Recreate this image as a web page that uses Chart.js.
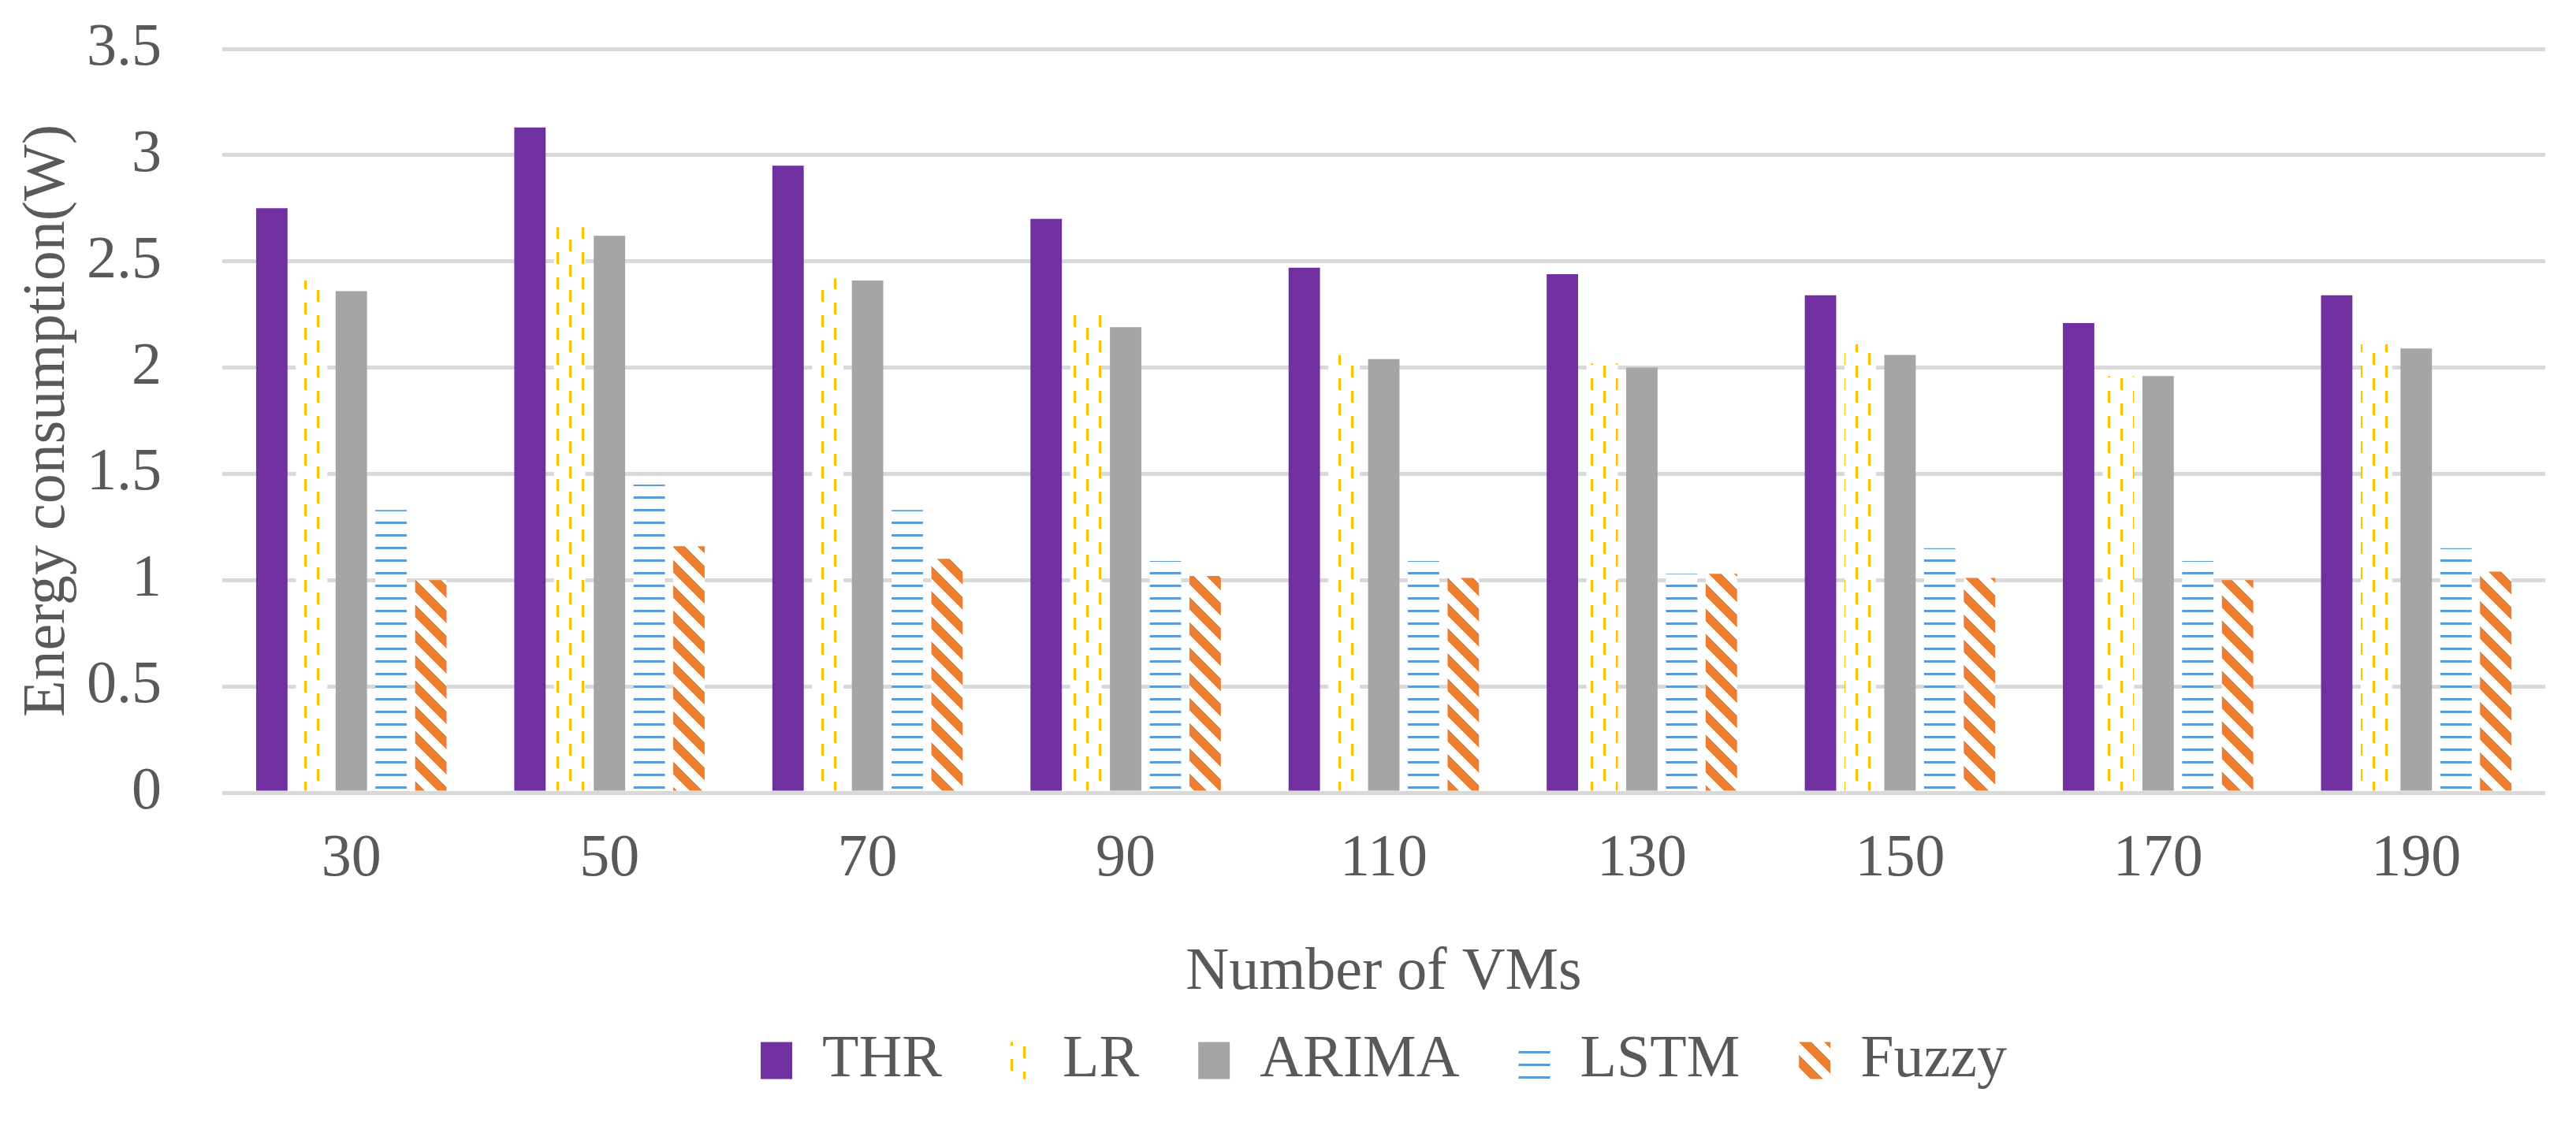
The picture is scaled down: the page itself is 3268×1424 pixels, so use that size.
<!DOCTYPE html>
<html>
<head>
<meta charset="utf-8">
<script src="https://cdn.jsdelivr.net/npm/chart.js@4"></script>
<style>
  html, body { margin: 0; padding: 0; background: #ffffff; }
  #chart { display: block; }
</style>
</head>
<body>
<canvas id="chart" width="3268" height="1424" style="width:3268px;height:1424px"></canvas>
<script>
const vmCounts = ['30', '50', '70', '90', '110', '130', '150', '170', '190'];
const thrValues = [2.75, 3.13, 2.95, 2.70, 2.47, 2.44, 2.34, 2.21, 2.34];
const lrValues = [2.41, 2.66, 2.42, 2.25, 2.06, 2.02, 2.11, 1.96, 2.11];
const arimaValues = [2.36, 2.62, 2.41, 2.19, 2.04, 2.00, 2.06, 1.96, 2.09];
const lstmValues = [1.33, 1.45, 1.33, 1.09, 1.09, 1.03, 1.15, 1.09, 1.15];
const fuzzyValues = [1.00, 1.16, 1.10, 1.02, 1.01, 1.03, 1.01, 1.00, 1.04];
const yTickLabels = ['0', '0.5', '1', '1.5', '2', '2.5', '3', '3.5'];

const textColor = '#595959';
const fontFamily = "'Liberation Serif', 'DejaVu Serif', serif";
const fontSize = 76;

// pattern tiles (white background, like Excel pattern fills)
function makeTile(w, h, draw) {
    const c = document.createElement('canvas');
    c.width = w;
    c.height = h;
    const cx = c.getContext('2d');
    cx.fillStyle = '#ffffff';
    cx.fillRect(0, 0, w, h);
    draw(cx);
    return document.getElementById('chart').getContext('2d').createPattern(c, 'repeat');
}

// dashed vertical lines
const lrPattern = makeTile(32, 32, function (cx) {
    cx.fillStyle = '#FFC000';
    cx.fillRect(2, 0, 3, 15);
    cx.fillRect(18, 16, 3, 15);
});

// narrow horizontal lines
const lstmPattern = makeTile(8, 16, function (cx) {
    cx.fillStyle = '#5B9BD5';
    cx.fillRect(0, 6, 8, 3);
});

// wide downward diagonal
const fuzzyPattern = makeTile(32, 32, function (cx) {
    cx.fillStyle = '#ED7D31';
    for (let y = 0; y < 32; y++) {
        for (let x = 0; x < 32; x++) {
            if ((((x - y) % 32) + 32) % 32 < 16) cx.fillRect(x, y, 1, 1);
        }
    }
});

const font = { family: fontFamily, size: fontSize };

new Chart(document.getElementById('chart'), {
    type: 'bar',
    data: {
        labels: vmCounts,
        datasets: [
            { label: 'THR', data: thrValues, backgroundColor: '#7030A0' },
            { label: 'LR', data: lrValues, backgroundColor: lrPattern },
            { label: 'ARIMA', data: arimaValues, backgroundColor: '#A5A5A5' },
            { label: 'LSTM', data: lstmValues, backgroundColor: lstmPattern },
            { label: 'Fuzzy', data: fuzzyValues, backgroundColor: fuzzyPattern }
        ]
    },
    options: {
        responsive: false,
        devicePixelRatio: 1,
        animation: false,
        layout: { padding: { top: 62, right: 39, bottom: 30, left: 0 } },
        datasets: {
            bar: { categoryPercentage: 0.77, barPercentage: 0.79, borderWidth: 0 }
        },
        plugins: {
            tooltip: { enabled: false },
            legend: {
                position: 'bottom',
                fullSize: false,
                labels: {
                    font: font,
                    color: textColor,
                    boxWidth: 40,
                    boxHeight: 47,
                    padding: 75
                }
            }
        },
        scales: {
            x: {
                grid: { display: false, drawTicks: false },
                border: { display: false },
                ticks: { font: font, color: textColor, padding: 39 },
                title: {
                    display: true,
                    text: 'Number of VMs',
                    font: font,
                    color: textColor,
                    padding: { top: 0, bottom: -48 }
                },
                afterFit: function (scale) { scale.height = 227; }
            },
            y: {
                min: 0,
                max: 3.5,
                grid: { color: '#D9D9D9', lineWidth: 5, drawTicks: false },
                border: { display: false },
                ticks: {
                    stepSize: 0.5,
                    font: font,
                    color: textColor,
                    padding: 77,
                    callback: function (value, index) { return yTickLabels[index]; }
                },
                title: {
                    display: true,
                    text: 'Energy consumption(W)',
                    font: font,
                    color: textColor,
                    padding: { top: 15, bottom: 0 }
                },
                afterFit: function (scale) {
                    scale.width = 282;
                    // tick padding should not push the plot area down
                    scale.paddingTop = 0;
                    scale.paddingBottom = 0;
                }
            }
        }
    }
});
</script>
</body>
</html>
